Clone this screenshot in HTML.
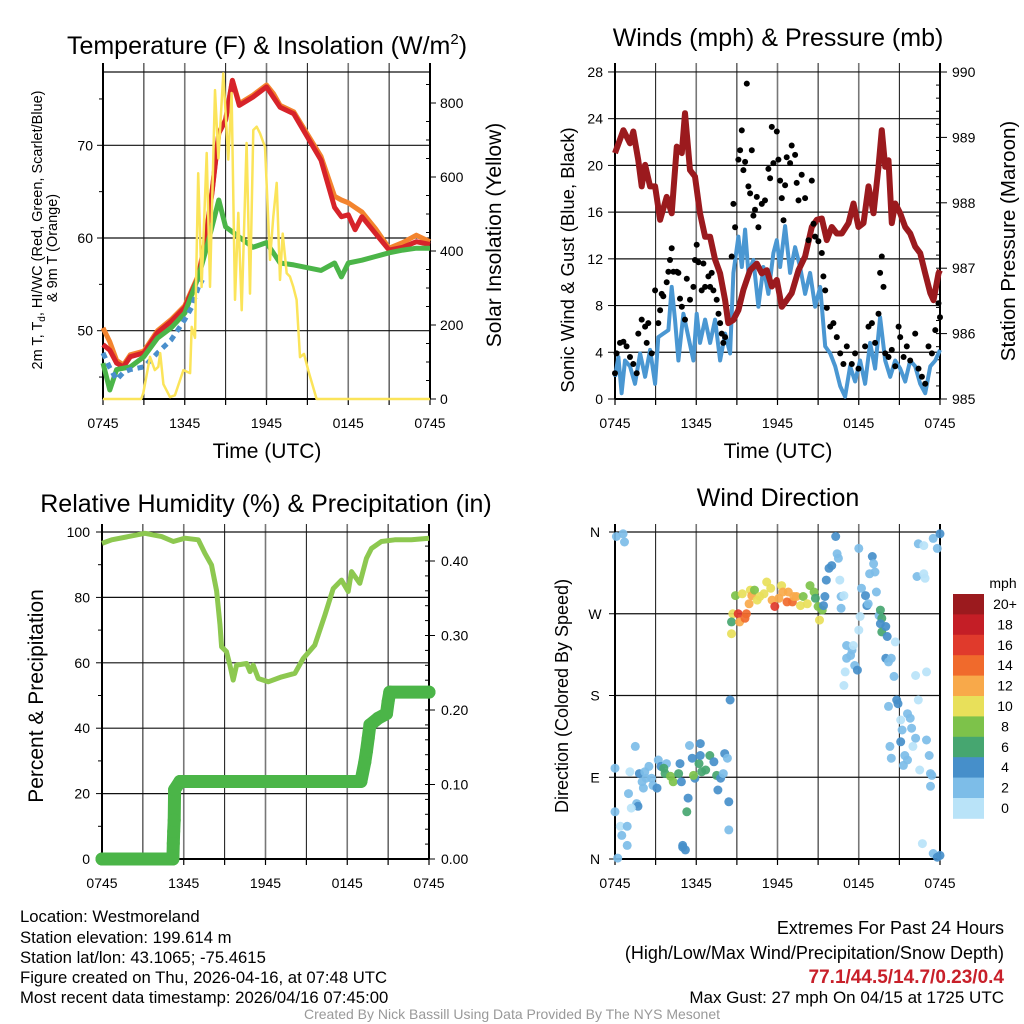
<!DOCTYPE html>
<html><head><meta charset="utf-8"><style>
html,body{margin:0;padding:0;background:#fff;}
svg{display:block;font-family:"Liberation Sans",Arial,sans-serif;}
</style></head><body>
<svg id="fig" width="1024" height="1024" viewBox="0 0 1024 1024" xmlns="http://www.w3.org/2000/svg">
<rect x="0" y="0" width="1024" height="1024" fill="#fff"/>
<!-- titles -->
<text x="267" y="54" font-size="25" text-anchor="middle">Temperature (F) &amp; Insolation (W/m<tspan font-size="15" dy="-10">2</tspan><tspan dy="10">)</tspan></text>
<text x="778" y="46" font-size="25" text-anchor="middle">Winds (mph) &amp; Pressure (mb)</text>
<text x="266" y="512" font-size="25" text-anchor="middle">Relative Humidity (%) &amp; Precipitation (in)</text>
<text x="778" y="506" font-size="25" text-anchor="middle">Wind Direction</text>
<!-- axis titles -->
<text x="267" y="458" font-size="21" text-anchor="middle">Time (UTC)</text>
<text x="778" y="458" font-size="21" text-anchor="middle">Time (UTC)</text>
<text transform="translate(42,230) rotate(-90)" font-size="14.5" text-anchor="middle">2m T, T<tspan font-size="10" dy="3">d</tspan><tspan dy="-3">, HI/WC (Red, Green, Scarlet/Blue)</tspan></text>
<text transform="translate(57,248) rotate(-90)" font-size="14.5" text-anchor="middle">&amp; 9m T (Orange)</text>
<text transform="translate(501,235) rotate(-90)" font-size="21" text-anchor="middle">Solar Insolation (Yellow)</text>
<text transform="translate(574,260) rotate(-90)" font-size="18.5" text-anchor="middle">Sonic Wind &amp; Gust (Blue, Black)</text>
<text transform="translate(1015,241) rotate(-90)" font-size="20.5" text-anchor="middle">Station Pressure (Maroon)</text>
<text transform="translate(43,696) rotate(-90)" font-size="21" text-anchor="middle">Percent &amp; Precipitation</text>
<text transform="translate(568,696) rotate(-90)" font-size="18" text-anchor="middle">Direction (Colored By Speed)</text>
<!-- footer -->
<g font-size="16.7">
<text x="20" y="922">Location: Westmoreland</text>
<text x="20" y="943">Station elevation: 199.614 m</text>
<text x="20" y="963">Station lat/lon: 43.1065; -75.4615</text>
<text x="20" y="983">Figure created on Thu, 2026-04-16, at 07:48 UTC</text>
<text x="20" y="1003">Most recent data timestamp: 2026/04/16 07:45:00</text>
</g>
<g text-anchor="end">
<text x="1004" y="934" font-size="18">Extremes For Past 24 Hours</text>
<text x="1004" y="959" font-size="18">(High/Low/Max Wind/Precipitation/Snow Depth)</text>
<text x="1004" y="983" fill="#c8202a" font-weight="bold" font-size="19">77.1/44.5/14.7/0.23/0.4</text>
<text x="1004" y="1003" font-size="17">Max Gust: 27 mph On 04/15 at 1725 UTC</text>
</g>
<text x="512" y="1019" font-size="14" fill="#999" text-anchor="middle">Created By Nick Bassill Using Data Provided By The NYS Mesonet</text>
<g id="layer"></g>
</svg>
<script>
// ---------- data ----------
var timeTicks = ["0745","1345","1945","0145","0745"];
var tempTimes = [0,0.5,1,1.5,2,3,4,5,6,7,7.5,8,8.5,9,9.5,10,11,12,12.5,13,14,15,16,17,17.5,18,18.5,19,20,21,22,23,24];
var tempRed = [48.5,47.9,46.5,46.1,47.2,47.6,49.8,51,52.5,55.8,59.5,64.9,71.3,72.7,77,74.3,75.2,76.3,75.2,74.1,73.4,70.9,68.4,63.3,62.3,62.5,60.9,62.3,60.5,58.7,59,59.6,59.3];
var tempOrange = [50.3,48.8,46.8,46.3,47.4,47.8,50,51.2,52.7,56,59.7,65,71.3,72.8,77,74.5,75.4,76.5,75.6,74.3,73.6,71.2,68.8,64.5,64.1,63.8,63.3,62.8,61,58.9,59.5,60.3,59.6];
var greenTimes = [0,0.5,1,2,3,4,5,6,7,7.5,8,8.5,9,10,11,12,13,14,15,16,17,17.5,18,19,20,21,22,23,24];
var tempGreen = [46.5,43.6,45.8,46.1,47.2,49.2,50.3,51.9,55.8,58.4,61.2,64.1,61.2,60.1,59,59.5,57.3,57.1,56.8,56.5,57.3,55.8,57.3,57.6,58,58.4,58.7,58.9,58.9];
var wcTimes = [0,0.5,1,1.5,2,3,4,5,6,6.5,7,7.3];
var tempWC = [47.6,46,44.7,45.5,45.8,46.1,47.6,49,51.2,52.5,54.7,55.5];
var solTimes = [0,2.8,2.96,3.45,3.8,4.06,4.2,4.43,4.92,5.28,5.9,6.39,6.51,6.75,6.99,7.24,7.61,7.85,8.22,8.47,8.83,9.2,9.44,9.69,9.93,10.18,10.54,10.79,11.03,11.28,11.52,11.89,12.26,12.5,12.75,12.99,13.19,13.48,13.72,13.97,14.21,14.46,14.75,15.07,15.68,24];
var solar = [0,0,16,114,78,87,124,40,5,10,78,70,195,165,610,303,665,303,835,650,880,647,827,268,503,240,692,285,727,736,718,681,376,493,584,322,447,340,331,303,268,113,122,77,0,0];
var tempTicks = [50,60,70];
var solarTicks = [0,200,400,600,800];

var presTimes = [0,0.62,1.11,1.35,1.72,1.97,2.22,2.59,2.96,3.33,3.82,4.19,4.56,4.93,5.17,5.54,5.91,6.28,6.65,7.02,7.39,7.76,8.13,8.37,8.74,9.11,9.48,9.98,10.47,10.84,11.21,11.58,11.95,12.32,12.68,13.05,13.55,14.04,14.53,14.9,15.27,15.64,16.01,16.38,16.75,17.24,17.61,17.98,18.35,18.72,19.09,19.46,19.7,19.95,20.2,20.44,20.69,21.06,21.43,21.8,22.17,22.54,22.91,23.28,23.52,23.89,24];
var pressure = [988.76,989.11,988.91,989.09,988.65,988.25,988.58,988.25,988.25,987.74,988.09,987.84,988.86,988.76,989.37,988.50,988.40,987.84,987.48,987.48,987.13,986.92,986.51,986.16,986.21,986.36,986.67,986.97,987.07,986.92,986.97,986.72,986.82,986.41,986.51,986.62,986.97,987.18,987.63,987.74,987.76,987.43,987.63,987.53,987.53,987.69,987.99,987.63,987.69,988.25,987.84,988.55,989.11,988.55,988.65,987.69,987.99,987.84,987.63,987.53,987.33,987.23,986.92,986.62,986.51,986.92,986.97];
var windTimes = [0,0.25,0.49,0.74,1.11,1.48,1.85,2.22,2.59,2.96,3.2,3.57,3.94,4.19,4.43,4.68,5.05,5.42,5.79,6.03,6.28,6.65,7.02,7.39,7.76,8.13,8.5,8.74,9.11,9.36,9.61,9.85,10.22,10.59,10.96,11.33,11.7,11.95,12.19,12.56,12.93,13.3,13.67,14.04,14.41,14.78,15.15,15.52,15.89,16.26,16.63,16.99,17.36,17.73,18.1,18.47,18.84,19.21,19.58,19.95,20.32,20.69,21.06,21.43,21.8,22.17,22.54,22.91,23.28,23.65,24];
var windSpeed = [1.9,3.6,0.5,3.3,2.8,1.3,3.9,1.9,4.2,1.3,5.3,5.6,5.9,9.6,6.8,3.3,7.3,5.3,3.3,7.3,4.8,6.8,4.8,6.8,3.3,5.6,3.9,10.8,13.9,11.3,14.5,10.8,11.9,7.9,11.3,9.0,12.5,13.6,11.3,14.8,10.8,13.0,11.3,9.0,10.8,7.9,9.6,4.5,3.9,2.8,1.1,0.2,2.8,1.5,3.3,1.3,4.8,2.6,7.0,3.3,1.9,3.3,2.6,1.5,3.3,2.8,1.3,0.5,2.8,3.3,4.2];
var gustTimes = [0,0.12,0.37,0.62,0.86,1.11,1.35,1.6,1.72,1.97,2.22,2.46,2.34,2.71,2.96,3.2,3.33,3.45,3.57,3.82,3.94,4.06,4.19,4.31,4.56,4.68,4.8,4.93,5.17,5.3,5.54,5.79,5.91,6.03,6.16,6.4,6.53,6.65,6.9,7.02,7.14,7.27,7.51,7.64,7.76,7.88,8.0,8.13,8.62,8.74,8.87,9.11,9.24,9.36,9.48,9.61,9.73,9.85,9.98,10.1,10.22,10.34,10.47,10.59,10.84,11.08,11.33,11.45,11.58,11.7,11.95,12.07,12.19,12.32,12.44,12.56,12.68,12.93,13.05,13.3,13.42,13.55,13.79,14.04,14.29,14.53,14.66,14.78,15.02,15.27,15.39,15.52,15.64,15.89,16.13,16.38,16.63,16.87,17.12,17.49,17.73,17.98,18.47,18.72,18.97,19.21,19.46,19.58,19.7,19.83,19.95,20.2,20.44,20.69,20.94,21.06,21.31,21.55,21.8,22.17,22.41,22.66,22.91,23.15,23.4,23.65,23.89,24];
var gustSpeed = [2.2,3.9,4.8,4.9,4.5,3.6,3.0,2.2,5.6,6.8,6.2,6.5,4.8,3.9,9.3,6.5,7.6,9.0,8.8,10.0,10.9,11.9,12.9,10.9,10.9,10.8,8.6,7.9,6.8,10.3,8.5,9.6,11.9,13.2,11.7,9.3,11.6,9.6,10.5,9.6,10.8,9.3,8.5,7.3,6.5,5.6,4.8,5.3,12.2,16.7,14.7,20.5,21.3,23.0,19.6,20.3,27.0,18.2,17.6,21.3,15.7,16.2,17.3,14.7,16.7,17.0,19.7,18.9,23.3,20.2,22.9,20.5,18.7,17.2,15.3,18.3,20.7,20.2,21.7,20.9,18.5,17.0,19.2,17.2,13.6,18.7,15.0,13.9,13.5,12.5,10.5,9.3,7.8,6.2,6.5,5.3,3.9,3.0,4.5,3.0,3.9,2.6,4.5,6.2,6.5,4.8,7.3,10.8,12.2,9.6,3.9,3.6,4.2,2.8,6.2,5.3,3.6,4.5,3.3,5.6,2.6,1.9,1.3,4.5,3.9,5.9,8.2,7.0];
var windTicks = [0,4,8,12,16,20,24,28];
var presTicks = [985,986,987,988,989,990];

var rhTimes = [0,0.71,1.93,3.15,4.38,5.23,6.09,7.07,7.55,8.04,8.41,8.66,8.78,9.14,9.39,9.63,9.88,10.61,10.86,11.1,11.47,12.2,13.18,14.16,14.77,15.62,16.36,16.97,17.58,18.07,18.31,18.92,19.41,19.78,20.51,21.49,22.71,24];
var rh = [96.5,97.6,98.6,99.6,98.6,97.1,98.1,97.6,93.5,89.9,82,71.6,64.9,63.4,59.3,54.7,59.3,59.8,57.3,59.3,55.2,54.2,55.7,56.8,61.3,65.4,74.6,82.7,85.3,81.8,87.9,84.3,92,95,97.1,97.6,97.6,98.1];
var precipTimes = [0,5.2,5.23,5.26,5.3,5.33,5.72,19.0,19.29,19.41,19.54,19.66,20.27,20.88,21.0,21.12,24];
var precip = [0,0,0.021,0.037,0.052,0.093,0.104,0.104,0.13,0.145,0.162,0.18,0.189,0.195,0.211,0.224,0.224];
var rhTicks = [0,20,40,60,80,100];
var precipTicks = ["0.00","0.10","0.20","0.30","0.40"];

var dirTimes = [0.1,0.6,0.7,0,1.1,1.5,1.8,2.2,2.5,2.7,2.0,2.1,2.3,2.8,3.1,3.2,3.4,3.8,3.6,3.7,4.1,4.3,4.7,4.8,4.9,5.4,5.3,5.5,5.7,5.9,5.8,6.2,6.3,6.3,6.4,6.7,7.0,7.3,7.5,7.8,7.6,8.0,8.1,8.3,8.4,8.4,1.6,1.7,1.2,1.0,0,0.4,0.9,0.5,0.9,0.2,5.0,5.2,5.0,8.5,
8.6,8.7,8.6,8.9,9.1,9.2,9.4,9.6,9.7,9.9,10.0,10.1,10.3,10.5,10.7,11.0,11.2,11.5,11.6,11.8,12.1,12.3,12.4,12.7,12.8,13.1,13.2,13.4,13.7,13.9,14.2,14.4,14.7,14.8,15.0,15.1,15.3,15.4,15.5,
15.6,15.8,16.0,16.3,16.4,16.5,16.6,16.7,16.9,16.7,17.1,17.4,17.5,17.6,17.1,17.7,17.9,17.0,16.9,18.0,18.1,18.0,18.2,18.5,18.6,18.7,18.8,19.0,19.1,19.2,19.3,19.5,19.6,19.7,19.6,19.7,20.0,20.1,20.0,20.2,20.4,20.7,20.6,20.8,20.9,21.1,20.2,21.2,21.1,21.6,21.8,21.9,22.2,22.0,20.3,20.4,21.4,21.6,21.3,22.4,22.5,23.0,23.2,23.3,23.4,23.3,22.7,23.5,23.8,24.0,22.4,22.8,22.3,22.8,22.9,23.5,23.8,24.0,22.2,23.0];
var dirDeg = [355,358,349,100,96,124,94,96,102,89,85,78,89,81,78,109,102,105,100,94,91,85,94,105,85,67,52,125,111,89,92,105,114,127,96,98,114,107,92,89,76,94,116,111,63,32,61,58,56,72,52,36,36,26,15,1,15,10,13,175,
248,270,261,290,270,261,292,265,270,281,296,290,296,285,289,292,305,298,285,278,287,301,294,283,294,283,289,289,279,289,281,301,294,287,278,263,274,279,289,
307,320,323,355,336,331,307,289,290,276,235,224,230,235,221,213,208,206,191,342,267,252,298,290,279,281,314,333,325,316,294,268,274,265,259,250,256,245,221,217,221,239,201,175,171,153,168,142,129,160,155,144,133,124,124,111,114,109,103,175,98,131,114,94,92,80,17,6,2,4,347,345,311,314,309,353,342,358,202,206];
var dirSpeed = [3,2,2,3,1,2,4,3,2,2,2,2,2,2,4,2,4,3,6,6,9,8,6,4,4,4,6,2,4,4,8,6,4,4,6,6,6,4,6,4,4,3,4,2,4,2,2,4,1,2,2,1,2,2,2,3,4,4,4,4,
10,10,6,8,16,13,10,14,15,12,10,12,8,10,10,10,10,10,12,16,12,10,12,14,12,14,13,12,10,8,10,8,8,6,8,10,8,4,4,
4,4,4,4,2,2,0,2,1,2,2,2,2,1,2,2,4,1,1,2,1,1,2,4,4,3,2,4,2,2,2,2,6,6,4,6,4,4,4,2,2,1,2,4,4,1,2,2,4,2,2,2,2,1,2,2,2,2,2,1,1,2,2,2,2,2,1,3,4,4,2,1,2,1,1,2,2,4,1,1];
var dirTickLabels = ["N","E","S","W","N"];
var speedLabels = ["0","2","4","6","8","10","12","14","16","18","20+"];
var speedColors = ["#b9e3f8","#7dbde8","#468fca","#46a670","#7dc24a","#e8e05a","#f8a94a","#f06a2c","#e03a2c","#c41e26","#9b1a1e"];

// ---------- helpers ----------
var NS = "http://www.w3.org/2000/svg";
var layer = document.getElementById("layer");
function mk(tag, attrs, name, parent) {
  var e = document.createElementNS(NS, tag);
  for (var k in attrs) e.setAttribute(k, attrs[k]);
  
  
  (parent || layer).appendChild(e);
  return e;
}
function txt(x, y, s, size, anchor, name, fill) {
  var t = mk("text", {x: x, y: y, "font-size": size, "text-anchor": anchor, fill: fill || "#000"}, name);
  t.textContent = s;
  return t;
}
function pathFrom(ts, vs, xf, yf) {
  var d = "";
  var n = Math.min(ts.length, vs.length);
  for (var i = 0; i < n; i++) d += (i ? "L" : "M") + xf(ts[i]).toFixed(1) + "," + yf(vs[i]).toFixed(1);
  return d;
}

function panel(L, R, T, B, gridTop, hGridYs, name) {
  var g = mk("g", {}, name + "-grid");
  for (var k = 1; k < 8; k++) {
    var x = L + (R - L) * k / 8;
    var major = (k % 2 === 0);
    mk("line", {x1: x, y1: gridTop, x2: x, y2: B, stroke: major ? "#777" : "#111", "stroke-width": major ? 1.6 : 1}, name + "-vgrid", g);
  }
  hGridYs.forEach(function (y) {
    mk("line", {x1: L, y1: y, x2: R, y2: y, stroke: "#111", "stroke-width": 1.2}, name + "-hgrid", g);
  });
  mk("line", {x1: L, y1: gridTop, x2: L, y2: B, stroke: "#000", "stroke-width": 2}, name + "-left-axis", g);
  mk("line", {x1: R, y1: gridTop, x2: R, y2: B, stroke: "#000", "stroke-width": 2}, name + "-right-axis", g);
  mk("line", {x1: L, y1: B, x2: R, y2: B, stroke: "#000", "stroke-width": 2}, name + "-bottom-axis", g);
  for (var i = 0; i <= 8; i++) {
    var xx = L + (R - L) * i / 8;
    mk("line", {x1: xx, y1: B, x2: xx, y2: B + 6, stroke: "#000", "stroke-width": 1.2}, name + "-x-tick", g);
  }
  for (var j = 0; j < 5; j++) {
    txt(L + (R - L) * j / 4, B + 29, timeTicks[j], 14, "middle", name + "-x-tick-label");
  }
}

// ===== Panel 1 =====
var p1 = {L: 103, R: 430, T: 72, B: 399};
function x1(h) { return p1.L + h * (p1.R - p1.L) / 24; }
function yT(t) { return 238 - (t - 60) * 9.27; }
function yS(w) { return p1.B - w * 0.37; }
panel(p1.L, p1.R, p1.T, p1.B, 63, [72, yT(70), yT(60), yT(50)], "temp-panel");
tempTicks.forEach(function (v) {
  mk("line", {x1: p1.L - 6, y1: yT(v), x2: p1.L, y2: yT(v), stroke: "#000"}, "temp-y-tick");
  txt(p1.L - 10, yT(v) + 5, String(v), 14, "end", "temp-y-tick-label");
});
[45, 55, 65, 75].forEach(function (v) {
  mk("line", {x1: p1.L - 4, y1: yT(v), x2: p1.L, y2: yT(v), stroke: "#000"}, "temp-y-minor-tick");
});
solarTicks.forEach(function (v) {
  mk("line", {x1: p1.R, y1: yS(v), x2: p1.R + 6, y2: yS(v), stroke: "#000"}, "solar-y-tick");
  txt(p1.R + 10, yS(v) + 5, String(v), 14, "start", "solar-y-tick-label");
});
for (var m = 50; m < 900; m += 50) {
  if (m % 200) mk("line", {x1: p1.R - 4, y1: yS(m), x2: p1.R, y2: yS(m), stroke: "#000"}, "solar-y-minor-tick");
}
mk("path", {d: pathFrom(tempTimes, tempOrange, x1, yT), fill: "none", stroke: "#f3842e", "stroke-width": 5, "stroke-linejoin": "round"}, "nine-meter-temp-line");
mk("path", {d: pathFrom(tempTimes, tempRed, x1, yT), fill: "none", stroke: "#d7232a", "stroke-width": 5, "stroke-linejoin": "round"}, "two-meter-temp-line");
mk("path", {d: pathFrom(greenTimes, tempGreen, x1, yT), fill: "none", stroke: "#4bb548", "stroke-width": 5, "stroke-linejoin": "round"}, "dewpoint-line");
mk("path", {d: pathFrom(wcTimes, tempWC, x1, yT), fill: "none", stroke: "#4a8fcc", "stroke-width": 5, "stroke-dasharray": "6 5"}, "wind-chill-line");
mk("path", {d: pathFrom(solTimes, solar, x1, yS), fill: "none", stroke: "#fbe45a", "stroke-width": 2.5, "stroke-linejoin": "round"}, "solar-insolation-line");

// ===== Panel 2 =====
var p2 = {L: 615, R: 940, T: 72, B: 399};
function x2(h) { return p2.L + h * (p2.R - p2.L) / 24; }
function yW(v) { return p2.B - v * 11.68; }
function yP(p) { return p2.B - (p - 985) * 65.4; }
panel(p2.L, p2.R, p2.T, p2.B, 63, windTicks.slice(1).map(yW), "wind-panel");
windTicks.forEach(function (v) {
  mk("line", {x1: p2.L - 7, y1: yW(v), x2: p2.L, y2: yW(v), stroke: "#000"}, "wind-y-tick");
  txt(p2.L - 12, yW(v) + 5, String(v), 14, "end", "wind-y-tick-label");
});
presTicks.forEach(function (v) {
  mk("line", {x1: p2.R, y1: yP(v), x2: p2.R + 7, y2: yP(v), stroke: "#000"}, "pressure-y-tick");
  txt(p2.R + 12, yP(v) + 5, String(v), 14, "start", "pressure-y-tick-label");
});
for (var q = 985.2; q < 990; q += 0.2) {
  mk("line", {x1: p2.R - 4, y1: yP(q), x2: p2.R, y2: yP(q), stroke: "#000"}, "pressure-y-minor-tick");
}
mk("path", {d: pathFrom(windTimes, windSpeed, x2, yW), fill: "none", stroke: "#4a97d2", "stroke-width": 4, "stroke-linejoin": "round"}, "sonic-wind-line");
mk("path", {d: pathFrom(presTimes, pressure, x2, yP), fill: "none", stroke: "#9b1a1e", "stroke-width": 6, "stroke-linejoin": "round"}, "pressure-line");
for (var gi = 0; gi < Math.min(gustTimes.length, gustSpeed.length); gi++) {
  mk("circle", {cx: x2(gustTimes[gi]).toFixed(1), cy: yW(gustSpeed[gi]).toFixed(1), r: 3, fill: "#000"}, "gust-point");
}

// ===== Panel 3 =====
var p3 = {L: 102, R: 429, T: 532, B: 859};
function x3(h) { return p3.L + h * (p3.R - p3.L) / 24; }
function yH(v) { return p3.B - v * 3.27; }
function yR(v) { return p3.B - v * 745; }
panel(p3.L, p3.R, p3.T, p3.B, 524, rhTicks.slice(1).map(yH), "humidity-panel");
rhTicks.forEach(function (v) {
  mk("line", {x1: p3.L - 6, y1: yH(v), x2: p3.L, y2: yH(v), stroke: "#000"}, "humidity-y-tick");
  txt(p3.L - 12, yH(v) + 5, String(v), 14, "end", "humidity-y-tick-label");
});
[10, 30, 50, 70, 90].forEach(function (v) {
  mk("line", {x1: p3.L - 4, y1: yH(v), x2: p3.L, y2: yH(v), stroke: "#000"}, "humidity-y-minor-tick");
});
precipTicks.forEach(function (s) {
  var v = parseFloat(s);
  mk("line", {x1: p3.R, y1: yR(v), x2: p3.R + 6, y2: yR(v), stroke: "#000"}, "precip-y-tick");
  txt(p3.R + 12, yR(v) + 5, s, 14, "start", "precip-y-tick-label");
});
for (var pr = 0.02; pr < 0.44; pr += 0.02) {
  mk("line", {x1: p3.R - 4, y1: yR(pr), x2: p3.R, y2: yR(pr), stroke: "#000"}, "precip-y-minor-tick");
}
mk("path", {d: pathFrom(rhTimes, rh, x3, yH), fill: "none", stroke: "#8dc850", "stroke-width": 5, "stroke-linejoin": "round"}, "humidity-line");
mk("path", {d: pathFrom(precipTimes, precip, x3, yR), fill: "none", stroke: "#4bb548", "stroke-width": 13, "stroke-linejoin": "round", "stroke-linecap": "round"}, "precipitation-line");
for (var pi = 0; pi < precipTimes.length; pi++) {
  mk("circle", {cx: x3(precipTimes[pi]).toFixed(1), cy: yR(precip[pi]).toFixed(1), r: 6.5, fill: "#4bb548"}, "precipitation-point");
}

// ===== Panel 4 =====
var p4 = {L: 615, R: 940, T: 532, B: 859};
function x4(h) { return p4.L + h * (p4.R - p4.L) / 24; }
function yD(d) { return p4.B - d * (p4.B - p4.T) / 360; }
panel(p4.L, p4.R, p4.T, p4.B, 524, [yD(90), yD(180), yD(270), yD(360)], "direction-panel");
dirTickLabels.forEach(function (s, i) {
  var y = yD(i * 90);
  mk("line", {x1: p4.L - 6, y1: y, x2: p4.L, y2: y, stroke: "#000"}, "direction-y-tick");
  txt(p4.L - 20, y + 5, s, 14, "middle", "direction-y-tick-label");
});
for (var di = 0; di < Math.min(dirTimes.length, dirDeg.length, dirSpeed.length); di++) {
  var bin = Math.min(10, Math.floor(dirSpeed[di] / 2));
  mk("circle", {cx: x4(dirTimes[di]).toFixed(1), cy: yD(dirDeg[di]).toFixed(1), r: 4.5, fill: speedColors[bin], "fill-opacity": 0.92}, "direction-point");
}
var cbTop = 594, cbH = 20.4;
txt(1003, 588, "mph", 14, "middle", "colorbar-title");
for (var ci = 0; ci < speedColors.length; ci++) {
  var idx = speedColors.length - 1 - ci;
  mk("rect", {x: 953, y: cbTop + ci * cbH, width: 31, height: cbH + 0.4, fill: speedColors[idx]}, "colorbar-swatch");
  txt(1005, cbTop + ci * cbH + 15, speedLabels[idx], 14, "middle", "colorbar-label");
}
</script>
</body></html>
